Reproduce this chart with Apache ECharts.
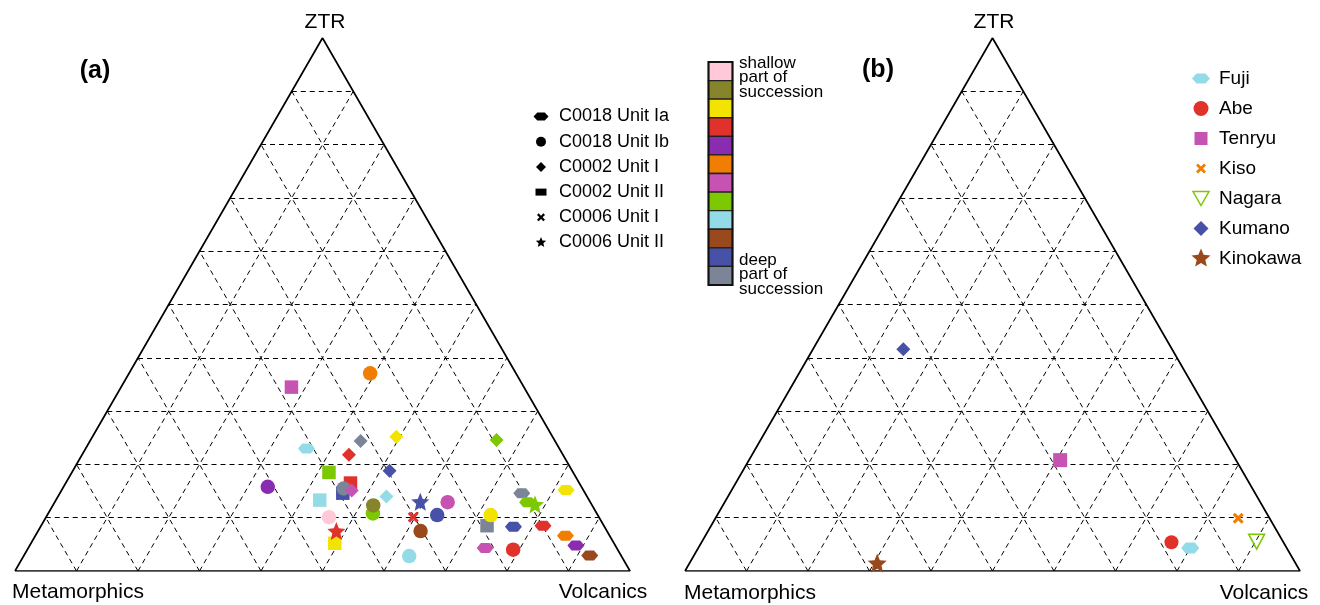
<!DOCTYPE html>
<html><head><meta charset="utf-8">
<script src="https://cdn.jsdelivr.net/npm/echarts@6/dist/echarts.min.js"></script>
<style>html,body{margin:0;padding:0;background:#fff}#main{width:1320px;height:605px}</style>
</head><body><div id="main"></div>
<script>
// ---------- data ----------
const ternaryAxes = ['ZTR', 'Metamorphics', 'Volcanics'];
const panelLabels = ['(a)', '(b)'];
// depth colour scale, shallow -> deep
const depthColors = ['#FFC9DA','#87852B','#F3E300','#E0312B','#8A2CB0','#F07E02','#C653B2','#7CC802','#93DCE7','#99491B','#4751A8','#7B8597'];
const depthTop = ['shallow', 'part of', 'succession'];
const depthBottom = ['deep', 'part of', 'succession'];

// panel (a): [ZTR, Metamorphics, Volcanics, depth level index]
const c0018UnitIa = [[23.0,41.1,35.9,8],[14.6,10.3,75.1,11],[12.9,10.2,76.9,7],[15.2,2.8,82.0,2],[8.3,14.8,76.9,10],[8.5,9.9,81.6,3],[6.6,7.2,86.2,5],[4.8,6.4,88.8,4],[2.9,5.1,92.0,9],[4.3,21.4,74.3,6]];
const c0018UnitIb = [[37.1,23.7,39.2,5],[15.8,51.0,33.2,4],[10.8,36.4,52.8,7],[12.3,35.6,52.1,1],[10.1,43.9,46.0,0],[15.5,38.8,45.7,11],[7.5,30.3,62.2,9],[2.8,34.5,62.7,8],[12.9,23.2,63.9,6],[10.5,26.1,63.4,10],[10.5,17.4,72.1,2],[4.0,17.0,79.0,3]];
const c0002UnitI = [[24.4,31.6,44.0,11],[21.8,34.8,43.4,3],[25.2,25.4,49.4,2],[18.8,29.7,51.5,10],[15.1,37.7,47.2,6],[14.0,32.6,53.4,8],[24.6,9.4,66.0,7]];
const c0002UnitII = [[34.5,37.8,27.7,6],[18.5,39.7,41.8,7],[16.5,37.2,46.3,3],[14.6,39.4,46.0,10],[13.3,43.8,42.9,8],[5.2,45.4,49.4,2],[8.5,19.0,72.5,11]];
const c0006UnitI = [[10.1,30.2,59.7,3]];
const c0006UnitII = [[13.0,27.6,59.4,10],[7.5,44.0,48.5,3],[12.5,9.2,78.3,7]];
const unitNames = ['C0018 Unit Ia','C0018 Unit Ib','C0002 Unit I','C0002 Unit II','C0006 Unit I','C0006 Unit II'];

// panel (b): [ZTR, Metamorphics, Volcanics]
const riverNames = ['Fuji','Abe','Tenryu','Kiso','Nagara','Kumano','Kinokawa'];
const fuji = [[4.3,15.7,80.0]];
const abe = [[5.4,18.2,76.4]];
const tenryu = [[20.8,28.6,50.6]];
const kiso = [[9.9,5.1,85.0]];
const nagara = [[5.5,4.3,90.2]];
const kumano = [[41.6,43.7,14.7]];
const kinokawa = [[1.5,68.0,30.5]];

// ---------- helpers ----------
const SQ3 = Math.sqrt(3) / 2;
function toXY(p) { const s = p[0] + p[1] + p[2]; const z = p[0] / s * 100, v = p[2] / s * 100; return [v + z / 2, z * SQ3]; }
function starPts(cx, cy, R, r) { const a = []; for (let i = 0; i < 10; i++) { const ang = -Math.PI / 2 + i * Math.PI / 5; const rr = i % 2 ? r : R; a.push([cx + rr * Math.cos(ang), cy + rr * Math.sin(ang)]); } return a; }
function hexPts(cx, cy, w, h) { return [[cx - w/2, cy],[cx - w/4, cy - h/2],[cx + w/4, cy - h/2],[cx + w/2, cy],[cx + w/4, cy + h/2],[cx - w/4, cy + h/2]]; }
const crossBase = [[0,2],[2,0],[5,3],[8,0],[10,2],[7,5],[10,8],[8,10],[5,7],[2,10],[0,8],[3,5]];
function crossPts(cx, cy, s) { return crossBase.map(p => [cx + (p[0] - 5) * s / 10, cy + (p[1] - 5) * s / 10]); }
function diamondPts(cx, cy, w, h) { return [[cx, cy - h/2],[cx + w/2, cy],[cx, cy + h/2],[cx - w/2, cy]]; }
function triDownPts(cx, cy, w, h) { return [[cx - w/2, cy - h/2],[cx + w/2, cy - h/2],[cx, cy + h/2]]; }
function toPath(pts) { return 'path://' + pts.map((p, i) => (i ? 'L' : 'M') + p[0].toFixed(3) + ',' + p[1].toFixed(3)).join(' ') + ' Z'; }

const SYM = {
  hex: 'path://M0,5 L4.2,0 L12.8,0 L17,5 L12.8,10 L4.2,10 Z',
  star: toPath(starPts(0, 0, 1, 0.45)),
  cross: toPath(crossBase)
};
const FONT = 'Liberation Sans';

// ---------- structure ----------
function gridLines() {
  const d = [];
  for (let i = 10; i < 100; i += 10) {
    d.push({ coords: [toXY([i, 100 - i, 0]), toXY([i, 0, 100 - i])] });
    d.push({ coords: [toXY([0, 100 - i, i]), toXY([100 - i, 0, i])] });
    d.push({ coords: [toXY([0, i, 100 - i]), toXY([100 - i, i, 0])] });
  }
  return d;
}
const series = [];
[0, 1].forEach(k => {
  series.push({ type: 'lines', coordinateSystem: 'cartesian2d', xAxisIndex: k, yAxisIndex: k, silent: true, z: 1,
    data: gridLines(), lineStyle: { color: '#000', width: 1, type: [5, 4], opacity: 1 } });
  series.push({ type: 'line', xAxisIndex: k, yAxisIndex: k, silent: true, z: 2, symbol: 'none',
    data: [toXY([0,100,0]), toXY([0,0,100]), toXY([100,0,0]), toXY([0,100,0])],
    lineStyle: { color: '#000', width: 1.7 } });
});

function scatterA(name, arr, symbol, size) {
  series.push({ name, type: 'scatter', xAxisIndex: 0, yAxisIndex: 0, z: 3, symbol, symbolSize: size,
    data: arr.map(p => ({ value: toXY(p), itemStyle: { color: depthColors[p[3]], opacity: 1 } })) });
}
scatterA(unitNames[3], c0002UnitII, 'rect', 13.5);
scatterA(unitNames[1], c0018UnitIb, 'circle', 14.5);
scatterA(unitNames[2], c0002UnitI, 'diamond', 14);
scatterA(unitNames[0], c0018UnitIa, SYM.hex, [17, 10]);
scatterA(unitNames[4], c0006UnitI, SYM.cross, 11);
scatterA(unitNames[5], c0006UnitII, SYM.star, 18);

const riverStyles = [
  { data: fuji, color: '#93DCE7', shape: 'hex' },
  { data: abe, color: '#E0312B', shape: 'circle' },
  { data: tenryu, color: '#C653B2', shape: 'rect' },
  { data: kiso, color: '#F07E02', shape: 'cross' },
  { data: nagara, color: '#7CC802', shape: 'tri' },
  { data: kumano, color: '#4751A8', shape: 'diamond' },
  { data: kinokawa, color: '#99491B', shape: 'star' }
];
riverStyles.forEach((r, i) => {
  const s = { name: riverNames[i], type: 'scatter', xAxisIndex: 1, yAxisIndex: 1, z: 3,
    data: r.data.map(p => toXY(p)), itemStyle: { color: r.color, opacity: 1 } };
  if (r.shape === 'hex') { s.symbol = SYM.hex; s.symbolSize = [18, 11]; }
  if (r.shape === 'circle') { s.symbol = 'circle'; s.symbolSize = 14; }
  if (r.shape === 'rect') { s.symbol = 'rect'; s.symbolSize = 14; }
  if (r.shape === 'cross') { s.symbol = SYM.cross; s.symbolSize = 11; }
  if (r.shape === 'tri') { s.symbol = 'triangle'; s.symbolRotate = 180; s.symbolSize = [16, 15];
    s.itemStyle = { color: 'rgba(255,255,255,0)', borderColor: r.color, borderWidth: 1.5, opacity: 1 }; }
  if (r.shape === 'diamond') { s.symbol = 'diamond'; s.symbolSize = 14; }
  if (r.shape === 'star') { s.symbol = SYM.star; s.symbolSize = 19; }
  series.push(s);
});

// ---------- graphic: labels, legends, colour bar ----------
const g = [];
function txt(text, x, y, size, opts) {
  g.push({ type: 'text', x, y, silent: true, style: Object.assign({ text, fill: '#000', fontSize: size, fontFamily: FONT, align: 'center', verticalAlign: 'middle' }, opts || {}) });
}
txt(panelLabels[0], 95, 71, 25, { fontWeight: 'bold' });
txt(panelLabels[1], 878, 70, 25, { fontWeight: 'bold' });
txt(ternaryAxes[0], 325, 22, 21); txt(ternaryAxes[0], 994, 22, 21);
txt(ternaryAxes[1], 78, 592, 21); txt(ternaryAxes[1], 750, 593, 21);
txt(ternaryAxes[2], 603, 592, 21); txt(ternaryAxes[2], 1264, 593, 21);

function poly(points, fill, stroke, lw) {
  g.push({ type: 'polygon', silent: true, shape: { points }, style: { fill: fill, stroke: stroke || null, lineWidth: lw || 0 } });
}
function icon(shape, cx, cy, color, big) {
  if (shape === 'hex') poly(hexPts(cx, cy, big ? 18 : 15, big ? 10 : 8), color);
  else if (shape === 'circle') g.push({ type: 'circle', silent: true, shape: { cx, cy, r: big ? 7.5 : 5 }, style: { fill: color } });
  else if (shape === 'rect') { const w = big ? 13 : 11, h = big ? 13 : 7; g.push({ type: 'rect', silent: true, shape: { x: cx - w/2, y: cy - h/2, width: w, height: h }, style: { fill: color } }); }
  else if (shape === 'diamond') poly(diamondPts(cx, cy, big ? 15 : 10, big ? 15 : 10), color);
  else if (shape === 'cross') poly(crossPts(cx, cy, big ? 10 : 8), color);
  else if (shape === 'star') poly(starPts(cx, cy, big ? 10 : 5.5, big ? 4.5 : 2.5), color);
  else if (shape === 'tri') poly(triDownPts(cx, cy, 16, 14), 'none', color, 1.5);
}
// legend (a)
const unitShapes = ['hex', 'circle', 'diamond', 'rect', 'cross', 'star'];
unitNames.forEach((n, i) => {
  const y = 116.5 + i * 25.2;
  icon(unitShapes[i], 541, y, '#000', false);
  txt(n, 559, y, 18, { align: 'left' });
});
// legend (b)
riverNames.forEach((n, i) => {
  const y = 78.5 + i * 30;
  icon(riverStyles[i].shape, 1201, y, riverStyles[i].color, true);
  txt(n, 1219, y, 19, { align: 'left' });
});
// colour bar
const cbX = 708.5, cbY = 62, cbW = 24, cbH = 223;
depthColors.forEach((c, i) => {
  g.push({ type: 'rect', silent: true, shape: { x: cbX, y: cbY + i * cbH / 12, width: cbW, height: cbH / 12 }, style: { fill: c, stroke: '#222', lineWidth: 1.4 } });
});
g.push({ type: 'rect', silent: true, shape: { x: cbX, y: cbY, width: cbW, height: cbH }, style: { fill: 'none', stroke: '#111', lineWidth: 2 } });
depthTop.forEach((t, i) => txt(t, 739, 63 + i * 14.6, 17, { align: 'left' }));
depthBottom.forEach((t, i) => txt(t, 739, 260 + i * 14.6, 17, { align: 'left' }));

const option = {
  animation: false,
  backgroundColor: '#fff',
  grid: [
    { left: 15, top: 38, width: 615, height: 533 },
    { left: 685, top: 38, width: 615, height: 533 }
  ],
  xAxis: [0, 1].map(k => ({ gridIndex: k, type: 'value', min: 0, max: 100, show: false })),
  yAxis: [0, 1].map(k => ({ gridIndex: k, type: 'value', min: 0, max: 100 * SQ3, show: false })),
  series,
  graphic: g
};
const chart = echarts.init(document.getElementById('main'), null, { renderer: 'canvas' });
chart.setOption(option);
</script></body></html>
